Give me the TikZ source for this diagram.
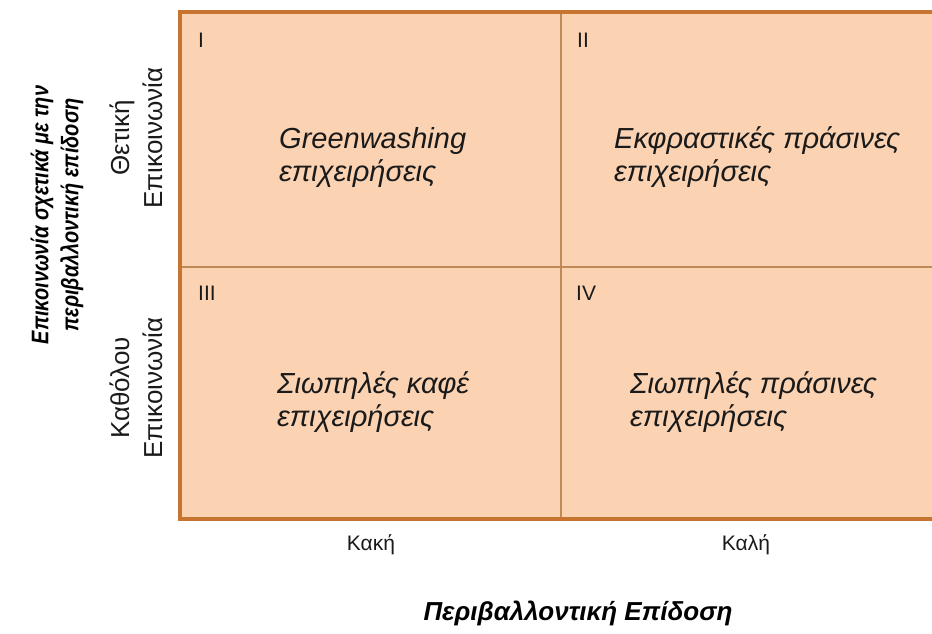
\documentclass[tikz,border=0pt]{standalone}
\usepackage{fontspec}
\setmainfont{Liberation Sans}
\newfontfamily\condfont[FakeStretch=0.83]{Liberation Sans}
\definecolor{cellfill}{HTML}{FBD3B3}
\definecolor{frame}{HTML}{C6742F}
\definecolor{inner}{HTML}{BF8A55}
\definecolor{txt}{HTML}{1A1A1A}
\begin{document}
\begin{tikzpicture}[x=1pt,y=-1pt,
  celltext/.style={anchor=base west,align=left,font=\fontsize{29}{33}\selectfont\itshape,text=txt,inner sep=0pt},
  numtext/.style={anchor=base west,font=\fontsize{21}{25}\selectfont,text=txt,inner sep=0pt},
  sidetext/.style={align=center,font=\fontsize{26}{33}\selectfont,text=txt,rotate=90,inner sep=0pt},
  axistitle/.style={align=center,font=\fontsize{26}{30}\selectfont\bfseries\itshape,text=black,inner sep=0pt},
  ytitle/.style={align=center,font=\condfont\fontsize{24}{30}\selectfont\bfseries\itshape,text=black,inner sep=0pt,rotate=90},
  axlabel/.style={font=\fontsize{21}{25}\selectfont,text=txt,inner sep=0pt}]
\useasboundingbox (0,0) rectangle (932,634);
\begin{scope}
\clip (0,0) rectangle (932,634);
\fill[cellfill] (180,12) rectangle (945,519);
\draw[inner,line width=1.3pt] (561,12) -- (561,519);
\draw[inner,line width=1.3pt] (180,267) -- (945,267);
\draw[frame,line width=3.2pt] (180,12) rectangle (945,519);
\end{scope}
% quadrant numbers
\node[numtext] (n1) at (198,48) {I};
\node[numtext] (n2) at (577,48) {II};
\node[numtext] (n3) at (198,300) {III};
\node[numtext] (n4) at (576,300) {IV};
% cell texts (anchor at baseline of last line)
\node[celltext] (c1) at (279,181) {Greenwashing\\επιχειρήσεις};
\node[celltext] (c2) at (614,181) {Εκφραστικές πράσινες\\επιχειρήσεις};
\node[celltext] (c3) at (277,426) {Σιωπηλές καφέ\\επιχειρήσεις};
\node[celltext] (c4) at (630,426) {Σιωπηλές πράσινες\\επιχειρήσεις};
% side labels
\node[sidetext] (s1) at (136,138) {Θετική\\Επικοινωνία};
\node[sidetext] (s2) at (136,388) {Καθόλου\\Επικοινωνία};
\node[ytitle] (yt) at (57,215) {Επικοινωνία σχετικά με την\\περιβαλλοντική επίδοση};
% bottom labels
\node[axlabel] (b1) at (371,545) {Κακή};
\node[axlabel] (b2) at (746,545) {Καλή};
\node[axistitle] (xt) at (578,613) {Περιβαλλοντική Επίδοση};
\end{tikzpicture}
\end{document}
